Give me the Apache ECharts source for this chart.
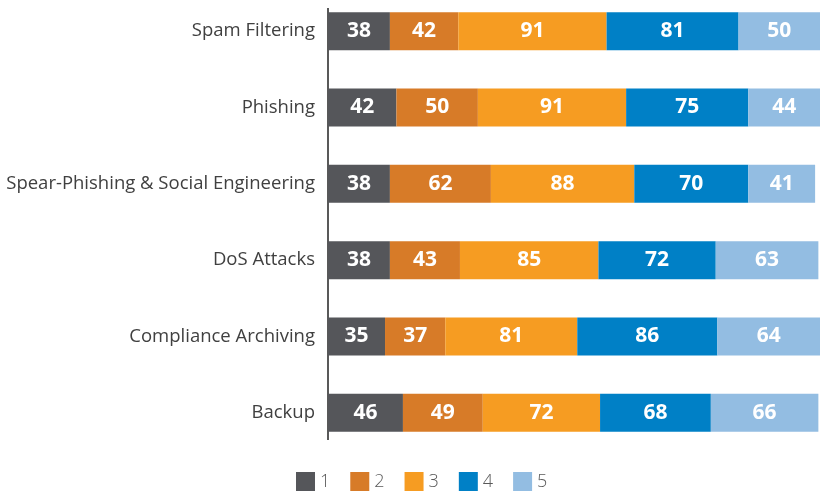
<!DOCTYPE html>
<html>
<head>
<meta charset="utf-8">
<script src="https://cdn.jsdelivr.net/npm/echarts@6/dist/echarts.min.js"></script>
<style>
  html, body { margin: 0; padding: 0; background: #fff; }
  #chart { width: 820px; height: 493px; }
</style>
</head>
<body>
<div id="chart"></div>
<script>
'use strict';
var categories = ['Spam Filtering', 'Phishing', 'Spear-Phishing & Social Engineering', 'DoS Attacks', 'Compliance Archiving', 'Backup'];
var seriesNames = ['1', '2', '3', '4', '5'];
var values1 = [38, 42, 38, 38, 35, 46];
var values2 = [42, 50, 62, 43, 37, 49];
var values3 = [91, 91, 88, 85, 81, 72];
var values4 = [81, 75, 70, 72, 86, 68];
var values5 = [50, 44, 41, 63, 64, 66];
var colors = ['#55565a', '#d77b28', '#f69c22', '#0080c6', '#93bde2'];

var allValues = [values1, values2, values3, values4, values5];

var myChart = echarts.init(document.getElementById('chart'));

var series = allValues.map(function (vals, i) {
    return {
        name: seriesNames[i],
        type: 'bar',
        stack: 'total',
        barWidth: 38,
        itemStyle: { color: colors[i] },
        label: {
            show: true,
            position: 'inside',
            color: '#fff',
            fontFamily: 'Open Sans',
            fontWeight: 'bold',
            fontSize: 21
        },
        data: vals
    };
});

var option = {
    animation: false,
    color: colors,
    grid: { left: 328, width: 492, top: -7, height: 458, outerBoundsMode: 'none', containLabel: false },
    xAxis: {
        type: 'value',
        min: 0,
        max: 302,
        show: false
    },
    yAxis: {
        type: 'category',
        inverse: true,
        data: categories,
        axisLine: { show: false },
        axisTick: { show: false },
        axisLabel: {
            margin: 13,
            color: '#404040',
            fontFamily: 'Open Sans',
            fontSize: 18.5
        }
    },
    legend: {
        top: 472,
        left: 296,
        itemWidth: 19,
        itemHeight: 19,
        itemGap: 20,
        icon: 'rect',
        padding: 0,
        textStyle: {
            color: '#595959',
            fontFamily: 'Open Sans',
            fontWeight: 300,
            fontSize: 18
        },
        data: seriesNames
    },
    graphic: [{
        type: 'line',
        shape: { x1: 328, y1: 8, x2: 328, y2: 440 },
        style: { stroke: '#222', lineWidth: 1.5 }
    }],
    series: series
};

myChart.setOption(option);
</script>
</body>
</html>
